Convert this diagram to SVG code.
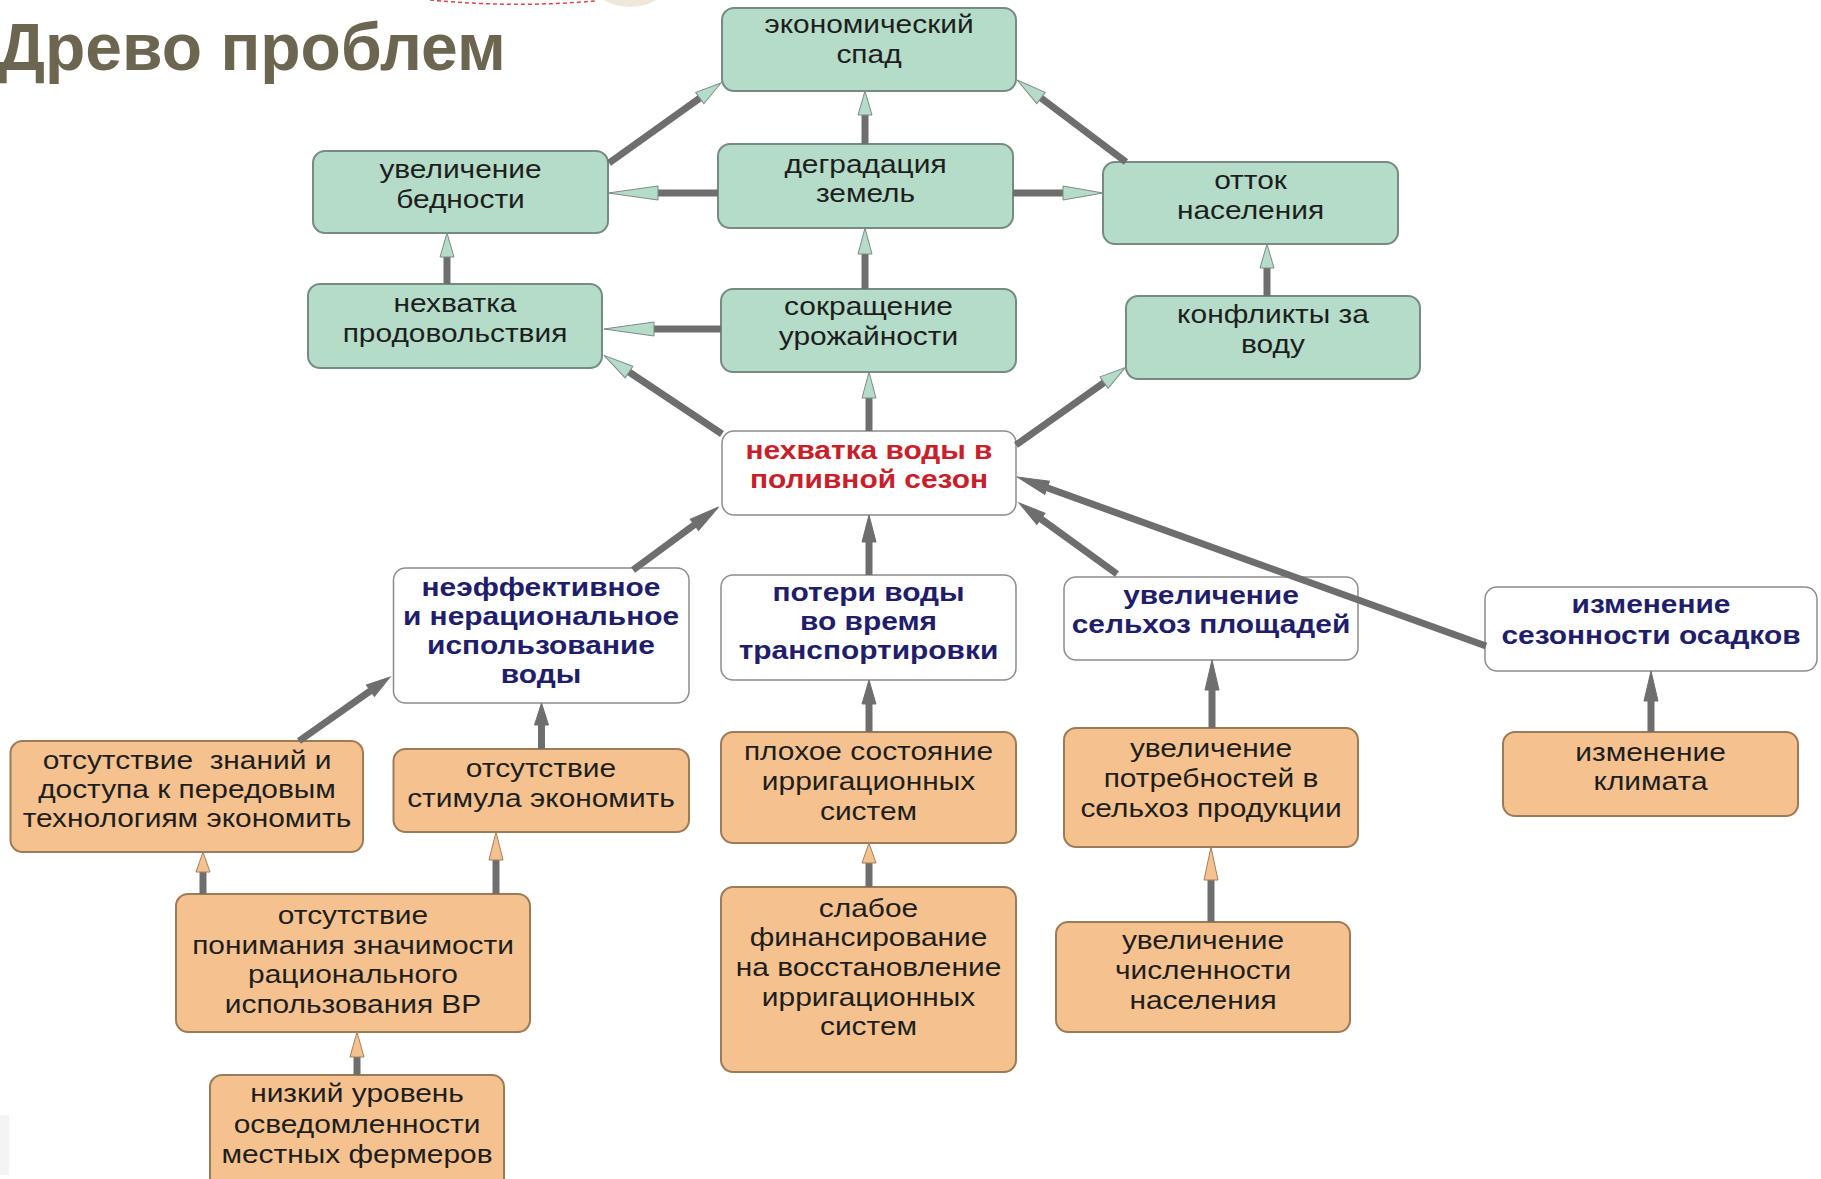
<svg xmlns="http://www.w3.org/2000/svg" width="1821" height="1179" viewBox="0 0 1821 1179">
<style>
.ng{fill:#b4dcc8;stroke:#768c82;stroke-width:2}
.nw{fill:#ffffff;stroke:#8c8c8c;stroke-width:1.5}
.no{fill:#f5c28f;stroke:#9c7b58;stroke-width:2}
.t{font-family:"Liberation Sans",Arial,sans-serif;font-size:26px;fill:#1e1e1e;text-anchor:middle}
.tb{font-weight:bold;fill:#221d6b}
.tr{fill:#c8202a}
.c{stroke:#6e6e6e;stroke-width:7;fill:none}
.hg{fill:#b4dcc8;stroke:#7f8a85;stroke-width:1}
.hk{fill:#6e6e6e;stroke:#6e6e6e;stroke-width:1}
.ho{fill:#f5c28f;stroke:#a08060;stroke-width:1}
.title{font-family:"Liberation Sans",Arial,sans-serif;font-weight:bold;font-size:66px;fill:#6c6550}
</style>
<defs>
<marker id="g24" markerUnits="userSpaceOnUse" markerWidth="60" markerHeight="20" refX="0" refY="0" orient="auto" overflow="visible"><path class="hg" d="M0,-7 L24,0 L0,7 z"/></marker>
<marker id="g26" markerUnits="userSpaceOnUse" markerWidth="60" markerHeight="20" refX="0" refY="0" orient="auto" overflow="visible"><path class="hg" d="M0,-7 L26,0 L0,7 z"/></marker>
<marker id="g30" markerUnits="userSpaceOnUse" markerWidth="60" markerHeight="20" refX="0" refY="0" orient="auto" overflow="visible"><path class="hg" d="M0,-7 L30,0 L0,7 z"/></marker>
<marker id="g40" markerUnits="userSpaceOnUse" markerWidth="60" markerHeight="20" refX="0" refY="0" orient="auto" overflow="visible"><path class="hg" d="M0,-7 L40,0 L0,7 z"/></marker>
<marker id="g50" markerUnits="userSpaceOnUse" markerWidth="60" markerHeight="20" refX="0" refY="0" orient="auto" overflow="visible"><path class="hg" d="M0,-7 L50,0 L0,7 z"/></marker>
<marker id="k22" markerUnits="userSpaceOnUse" markerWidth="60" markerHeight="20" refX="0" refY="0" orient="auto" overflow="visible"><path class="hk" d="M0,-7 L22,0 L0,7 z"/></marker>
<marker id="k24" markerUnits="userSpaceOnUse" markerWidth="60" markerHeight="20" refX="0" refY="0" orient="auto" overflow="visible"><path class="hk" d="M0,-7 L24,0 L0,7 z"/></marker>
<marker id="k27" markerUnits="userSpaceOnUse" markerWidth="60" markerHeight="20" refX="0" refY="0" orient="auto" overflow="visible"><path class="hk" d="M0,-7 L27,0 L0,7 z"/></marker>
<marker id="k30" markerUnits="userSpaceOnUse" markerWidth="60" markerHeight="20" refX="0" refY="0" orient="auto" overflow="visible"><path class="hk" d="M0,-7 L30,0 L0,7 z"/></marker>
<marker id="k32" markerUnits="userSpaceOnUse" markerWidth="60" markerHeight="20" refX="0" refY="0" orient="auto" overflow="visible"><path class="hk" d="M0,-7 L32,0 L0,7 z"/></marker>
<marker id="o20" markerUnits="userSpaceOnUse" markerWidth="60" markerHeight="20" refX="0" refY="0" orient="auto" overflow="visible"><path class="ho" d="M0,-7 L20,0 L0,7 z"/></marker>
<marker id="o25" markerUnits="userSpaceOnUse" markerWidth="60" markerHeight="20" refX="0" refY="0" orient="auto" overflow="visible"><path class="ho" d="M0,-7 L25,0 L0,7 z"/></marker>
<marker id="o28" markerUnits="userSpaceOnUse" markerWidth="60" markerHeight="20" refX="0" refY="0" orient="auto" overflow="visible"><path class="ho" d="M0,-7 L28,0 L0,7 z"/></marker>
<marker id="o33" markerUnits="userSpaceOnUse" markerWidth="60" markerHeight="20" refX="0" refY="0" orient="auto" overflow="visible"><path class="ho" d="M0,-7 L33,0 L0,7 z"/></marker>
</defs>
<rect width="1821" height="1179" fill="#ffffff"/>
<g id="decor">
<ellipse cx="630" cy="-30" rx="45" ry="37" fill="#efe8da"/>
<path d="M430,0 Q515,8 595,1" fill="none" stroke="#d9464a" stroke-width="1.5" stroke-dasharray="4 3"/>
<rect x="0" y="1115" width="9" height="60" fill="#f4f4f4"/>
</g>
<text class="title" x="-2" y="70">Древо проблем</text>

<g id="nodes">
<g id="n1"><rect class="ng" x="722" y="8" width="294" height="83" rx="12"/><g transform="translate(869,0) scale(1.15,1)"><text class="t" x="0" y="33">экономический</text><text class="t" x="0" y="63">спад</text></g></g>
<g id="n2"><rect class="ng" x="313" y="151" width="295" height="82" rx="12"/><g transform="translate(460.5,0) scale(1.15,1)"><text class="t" x="0" y="178">увеличение</text><text class="t" x="0" y="208">бедности</text></g></g>
<g id="n3"><rect class="ng" x="718" y="144" width="295" height="84" rx="12"/><g transform="translate(865.5,0) scale(1.15,1)"><text class="t" x="0" y="173">деградация</text><text class="t" x="0" y="202">земель</text></g></g>
<g id="n4"><rect class="ng" x="1103" y="162" width="295" height="82" rx="12"/><g transform="translate(1250.5,0) scale(1.15,1)"><text class="t" x="0" y="189">отток</text><text class="t" x="0" y="219">населения</text></g></g>
<g id="n5"><rect class="ng" x="308" y="284" width="294" height="84" rx="12"/><g transform="translate(455,0) scale(1.15,1)"><text class="t" x="0" y="312">нехватка</text><text class="t" x="0" y="342">продовольствия</text></g></g>
<g id="n6"><rect class="ng" x="721" y="289" width="295" height="83" rx="12"/><g transform="translate(868.5,0) scale(1.15,1)"><text class="t" x="0" y="315">сокращение</text><text class="t" x="0" y="345">урожайности</text></g></g>
<g id="n7"><rect class="ng" x="1126" y="296" width="294" height="83" rx="12"/><g transform="translate(1273,0) scale(1.15,1)"><text class="t" x="0" y="323">конфликты за</text><text class="t" x="0" y="353">воду</text></g></g>
<g id="n8"><rect class="nw" x="722" y="431" width="294" height="84" rx="12"/><g transform="translate(869,0) scale(1.15,1)"><text class="t tb tr" x="0" y="459">нехватка воды в</text><text class="t tb tr" x="0" y="488">поливной сезон</text></g></g>
<g id="n9"><rect class="nw" x="393.5" y="568" width="295.5" height="135" rx="12"/><g transform="translate(541,0) scale(1.15,1)"><text class="t tb" x="0" y="596">неэффективное</text><text class="t tb" x="0" y="625">и нерациональное</text><text class="t tb" x="0" y="654">использование</text><text class="t tb" x="0" y="683">воды</text></g></g>
<g id="n10"><rect class="nw" x="721" y="575" width="295" height="105" rx="12"/><g transform="translate(868.5,0) scale(1.15,1)"><text class="t tb" x="0" y="601">потери воды</text><text class="t tb" x="0" y="630">во время</text><text class="t tb" x="0" y="659">транспортировки</text></g></g>
<g id="n11"><rect class="nw" x="1064" y="577" width="294" height="83" rx="12"/><g transform="translate(1211,0) scale(1.15,1)"><text class="t tb" x="0" y="604">увеличение</text><text class="t tb" x="0" y="633">сельхоз площадей</text></g></g>
<g id="n12"><rect class="nw" x="1485" y="587" width="332" height="84" rx="12"/><g transform="translate(1651,0) scale(1.15,1)"><text class="t tb" x="0" y="613">изменение</text><text class="t tb" x="0" y="644">сезонности осадков</text></g></g>
<g id="n13"><rect class="no" x="10.5" y="741" width="352.5" height="111" rx="12"/><g transform="translate(187,0) scale(1.15,1)"><text class="t" x="0" y="769" style="white-space:pre">отсутствие  знаний и</text><text class="t" x="0" y="798">доступа к передовым</text><text class="t" x="0" y="827">технологиям экономить</text></g></g>
<g id="n14"><rect class="no" x="393.5" y="749" width="295.5" height="83" rx="12"/><g transform="translate(541,0) scale(1.15,1)"><text class="t" x="0" y="777">отсутствие</text><text class="t" x="0" y="807">стимула экономить</text></g></g>
<g id="n15"><rect class="no" x="721" y="732" width="295" height="111" rx="12"/><g transform="translate(868.5,0) scale(1.15,1)"><text class="t" x="0" y="760">плохое состояние</text><text class="t" x="0" y="790">ирригационных</text><text class="t" x="0" y="820">систем</text></g></g>
<g id="n16"><rect class="no" x="1064" y="728" width="294" height="119" rx="12"/><g transform="translate(1211,0) scale(1.15,1)"><text class="t" x="0" y="757">увеличение</text><text class="t" x="0" y="787">потребностей в</text><text class="t" x="0" y="817">сельхоз продукции</text></g></g>
<g id="n17"><rect class="no" x="1503" y="732" width="295" height="84" rx="12"/><g transform="translate(1650.5,0) scale(1.15,1)"><text class="t" x="0" y="761">изменение</text><text class="t" x="0" y="790">климата</text></g></g>
<g id="n18"><rect class="no" x="176" y="894" width="354" height="138" rx="12"/><g transform="translate(353,0) scale(1.15,1)"><text class="t" x="0" y="924">отсутствие</text><text class="t" x="0" y="954">понимания значимости</text><text class="t" x="0" y="983">рационального</text><text class="t" x="0" y="1013">использования ВР</text></g></g>
<g id="n19"><rect class="no" x="721" y="887" width="295" height="185" rx="12"/><g transform="translate(868.5,0) scale(1.15,1)"><text class="t" x="0" y="917">слабое</text><text class="t" x="0" y="946">финансирование</text><text class="t" x="0" y="976">на восстановление</text><text class="t" x="0" y="1006">ирригационных</text><text class="t" x="0" y="1035">систем</text></g></g>
<g id="n20"><rect class="no" x="1056" y="922" width="294" height="110" rx="12"/><g transform="translate(1203,0) scale(1.15,1)"><text class="t" x="0" y="949">увеличение</text><text class="t" x="0" y="979">численности</text><text class="t" x="0" y="1009">населения</text></g></g>
<g id="n21"><rect class="no" x="210" y="1075" width="294" height="115" rx="12"/><g transform="translate(357,0) scale(1.15,1)"><text class="t" x="0" y="1102">низкий уровень</text><text class="t" x="0" y="1133">осведомленности</text><text class="t" x="0" y="1163">местных фермеров</text></g></g>
</g>

<g id="connectors">
<path class="c" d="M609,163 L699.8,98.1" marker-end="url(#g26)"/>
<path class="c" d="M865,144 L865,115" marker-end="url(#g24)"/>
<path class="c" d="M1126,162 L1041,98" marker-end="url(#g30)"/>
<path class="c" d="M718,193 L658,193" marker-end="url(#g50)"/>
<path class="c" d="M1013,193 L1063,193" marker-end="url(#g40)"/>
<path class="c" d="M447,284 L447,257" marker-end="url(#g24)"/>
<path class="c" d="M865,289 L865,254" marker-end="url(#g26)"/>
<path class="c" d="M1267,296 L1267,268" marker-end="url(#g24)"/>
<path class="c" d="M721,329 L654,329" marker-end="url(#g50)"/>
<path class="c" d="M722,434 L629,372" marker-end="url(#g30)"/>
<path class="c" d="M869,431 L869,398" marker-end="url(#g26)"/>
<path class="c" d="M1016,445 L1104,382.6" marker-end="url(#g26)"/>
<path class="c" d="M633,570 L694.4,524.8" marker-end="url(#k30)"/>
<path class="c" d="M869,575 L869,542" marker-end="url(#k27)"/>
<path class="c" d="M1117,574 L1040.9,518.8" marker-end="url(#k27)"/>
<path class="c" d="M1486,646 L1047.1,487.8" marker-end="url(#k32)"/>
<path class="c" d="M299,741 L370.4,690.8" marker-end="url(#k24)"/>
<path class="c" d="M541.5,749 L541.5,725" marker-end="url(#k22)"/>
<path class="c" d="M869,732 L869,704" marker-end="url(#k24)"/>
<path class="c" d="M1212,728 L1212,690" marker-end="url(#k30)"/>
<path class="c" d="M1651,732 L1651,701" marker-end="url(#k30)"/>
<path class="c" d="M203,894 L203,872" marker-end="url(#o20)"/>
<path class="c" d="M496,894 L496,860" marker-end="url(#o28)"/>
<path class="c" d="M869,887 L869,863" marker-end="url(#o20)"/>
<path class="c" d="M1211,922 L1211,880" marker-end="url(#o33)"/>
<path class="c" d="M357,1075 L357,1057" marker-end="url(#o25)"/>
</g>
</svg>
